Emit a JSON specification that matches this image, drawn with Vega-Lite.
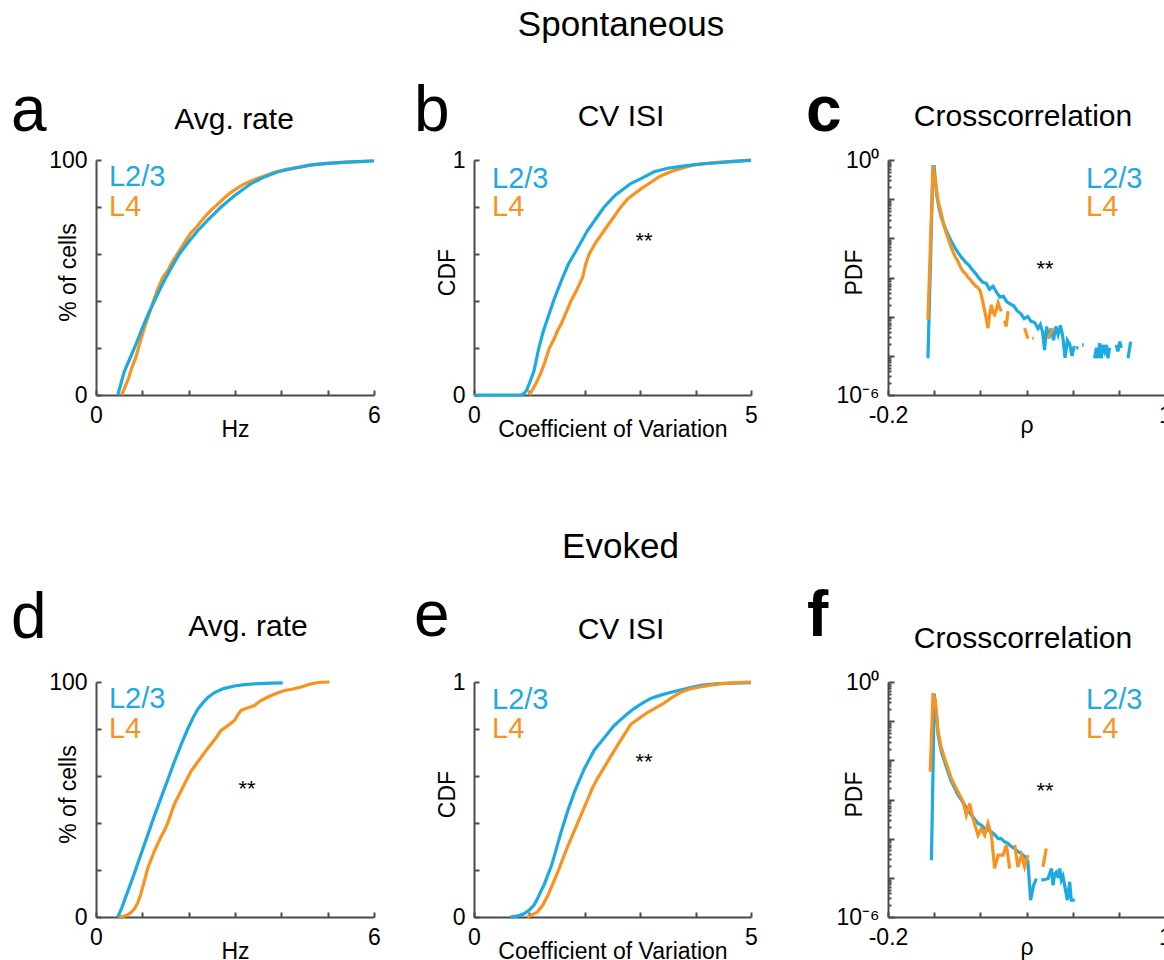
{
"$schema": "https://vega.github.io/schema/vega-lite/v6.json",
"padding": {"left": 10, "top": 7, "right": 0, "bottom": 0},
"background": "white",
"config": {
  "view": {"stroke": null},
  "font": "Liberation Sans",
  "legend": {"disable": true},
  "axis": {"grid": false, "domainColor": "#4a4a4a", "domainWidth": 2, "tickColor": "#4a4a4a", "tickWidth": 2, "tickSize": -5,
    "labelFont": "Liberation Sans", "labelFontSize": 23, "labelColor": "#000000", "labelPadding": 14, "labelFlush": false, "labelOverlap": false, "labelBound": false,
    "titleFont": "Liberation Sans", "titleFontSize": 23, "titleFontWeight": "normal", "titleColor": "#000000"},
  "text": {"font": "Liberation Sans", "color": "#000000"},
  "line": {"strokeWidth": 3.2}
},
"datasets": {
  "sa": [
    {"s":"L2/3","x":0.47,"y":0},{"s":"L2/3","x":0.54,"y":5},{"s":"L2/3","x":0.61,"y":10},{"s":"L2/3","x":0.72,"y":15},{"s":"L2/3","x":0.83,"y":20},{"s":"L2/3","x":0.93,"y":25},{"s":"L2/3","x":1.03,"y":30},{"s":"L2/3","x":1.14,"y":35},{"s":"L2/3","x":1.26,"y":40},{"s":"L2/3","x":1.38,"y":45},{"s":"L2/3","x":1.51,"y":50},{"s":"L2/3","x":1.65,"y":55},{"s":"L2/3","x":1.8,"y":60},{"s":"L2/3","x":1.99,"y":65},{"s":"L2/3","x":2.2,"y":70},{"s":"L2/3","x":2.44,"y":75},{"s":"L2/3","x":2.7,"y":80},{"s":"L2/3","x":3.0,"y":85},{"s":"L2/3","x":3.35,"y":90},{"s":"L2/3","x":3.6,"y":92.5},{"s":"L2/3","x":3.93,"y":95},{"s":"L2/3","x":4.3,"y":96.6},{"s":"L2/3","x":4.6,"y":97.8},{"s":"L2/3","x":5.0,"y":98.6},{"s":"L2/3","x":5.5,"y":99.2},{"s":"L2/3","x":6.0,"y":99.6},
    {"s":"L4","x":0.55,"y":0},{"s":"L4","x":0.62,"y":3},{"s":"L4","x":0.7,"y":7},{"s":"L4","x":0.78,"y":12},{"s":"L4","x":0.86,"y":16},{"s":"L4","x":0.93,"y":21},{"s":"L4","x":1.02,"y":27},{"s":"L4","x":1.12,"y":33},{"s":"L4","x":1.24,"y":40},{"s":"L4","x":1.33,"y":45},{"s":"L4","x":1.44,"y":50},{"s":"L4","x":1.55,"y":53},{"s":"L4","x":1.63,"y":56},{"s":"L4","x":1.72,"y":59},{"s":"L4","x":1.82,"y":62},{"s":"L4","x":1.93,"y":65.5},{"s":"L4","x":2.05,"y":69},{"s":"L4","x":2.15,"y":71},{"s":"L4","x":2.25,"y":73.5},{"s":"L4","x":2.38,"y":76.5},{"s":"L4","x":2.5,"y":79},{"s":"L4","x":2.62,"y":81},{"s":"L4","x":2.75,"y":83.5},{"s":"L4","x":2.9,"y":86},{"s":"L4","x":3.05,"y":88},{"s":"L4","x":3.2,"y":89.8},{"s":"L4","x":3.4,"y":91.5},{"s":"L4","x":3.6,"y":93},{"s":"L4","x":3.85,"y":94.8},{"s":"L4","x":4.1,"y":96},{"s":"L4","x":4.4,"y":97},{"s":"L4","x":4.7,"y":98},{"s":"L4","x":5.0,"y":98.6},{"s":"L4","x":5.4,"y":99.1},{"s":"L4","x":5.9,"y":99.4}
  ],
  "sb": [
    {"s":"L2/3","x":0,"y":0},{"s":"L2/3","x":0.85,"y":0},{"s":"L2/3","x":0.9,"y":0.005},{"s":"L2/3","x":0.95,"y":0.02},{"s":"L2/3","x":1.0,"y":0.05},{"s":"L2/3","x":1.08,"y":0.1},{"s":"L2/3","x":1.17,"y":0.2},{"s":"L2/3","x":1.25,"y":0.27},{"s":"L2/3","x":1.35,"y":0.34},{"s":"L2/3","x":1.45,"y":0.41},{"s":"L2/3","x":1.6,"y":0.5},{"s":"L2/3","x":1.7,"y":0.555},{"s":"L2/3","x":1.81,"y":0.6},{"s":"L2/3","x":1.93,"y":0.65},{"s":"L2/3","x":2.05,"y":0.7},{"s":"L2/3","x":2.2,"y":0.75},{"s":"L2/3","x":2.35,"y":0.8},{"s":"L2/3","x":2.55,"y":0.85},{"s":"L2/3","x":2.83,"y":0.9},{"s":"L2/3","x":3.05,"y":0.925},{"s":"L2/3","x":3.25,"y":0.95},{"s":"L2/3","x":3.5,"y":0.965},{"s":"L2/3","x":3.8,"y":0.975},{"s":"L2/3","x":4.2,"y":0.985},{"s":"L2/3","x":4.6,"y":0.992},{"s":"L2/3","x":5.0,"y":0.998},
    {"s":"L4","x":0.99,"y":0},{"s":"L4","x":1.05,"y":0.02},{"s":"L4","x":1.12,"y":0.05},{"s":"L4","x":1.2,"y":0.09},{"s":"L4","x":1.28,"y":0.14},{"s":"L4","x":1.36,"y":0.2},{"s":"L4","x":1.45,"y":0.24},{"s":"L4","x":1.5,"y":0.27},{"s":"L4","x":1.57,"y":0.3},{"s":"L4","x":1.66,"y":0.35},{"s":"L4","x":1.75,"y":0.4},{"s":"L4","x":1.86,"y":0.45},{"s":"L4","x":1.96,"y":0.5},{"s":"L4","x":2.02,"y":0.56},{"s":"L4","x":2.08,"y":0.6},{"s":"L4","x":2.2,"y":0.65},{"s":"L4","x":2.35,"y":0.7},{"s":"L4","x":2.5,"y":0.75},{"s":"L4","x":2.65,"y":0.8},{"s":"L4","x":2.78,"y":0.835},{"s":"L4","x":2.86,"y":0.85},{"s":"L4","x":3.0,"y":0.875},{"s":"L4","x":3.16,"y":0.9},{"s":"L4","x":3.35,"y":0.93},{"s":"L4","x":3.55,"y":0.95},{"s":"L4","x":3.75,"y":0.965},{"s":"L4","x":3.98,"y":0.98},{"s":"L4","x":4.4,"y":0.99},{"s":"L4","x":5.0,"y":1.0}
  ],
  "sc": [
    {"s":"L2/3","x":-0.027,"y":8.7e-6},{"s":"L2/3","x":-0.005,"y":0.68},{"s":"L2/3","x":0.0,"y":0.68},{"s":"L2/3","x":0.01,"y":0.141},{"s":"L2/3","x":0.02,"y":0.0631},{"s":"L2/3","x":0.03,"y":0.0355},{"s":"L2/3","x":0.045,"y":0.02},{"s":"L2/3","x":0.06,"y":0.0126},{"s":"L2/3","x":0.075,"y":0.0083},{"s":"L2/3","x":0.09,"y":0.00575},{"s":"L2/3","x":0.105,"y":0.00417},{"s":"L2/3","x":0.12,"y":0.00316},{"s":"L2/3","x":0.135,"y":0.00251},{"s":"L2/3","x":0.15,"y":0.00209},{"s":"L2/3","x":0.165,"y":0.00158},{"s":"L2/3","x":0.18,"y":0.00126},{"s":"L2/3","x":0.195,"y":0.00095},{"s":"L2/3","x":0.21,"y":0.00076},{"s":"L2/3","x":0.225,"y":0.00071},{"s":"L2/3","x":0.24,"y":0.0005},{"s":"L2/3","x":0.255,"y":0.0006},{"s":"L2/3","x":0.27,"y":0.00042},{"s":"L2/3","x":0.285,"y":0.000316},{"s":"L2/3","x":0.3,"y":0.00033},{"s":"L2/3","x":0.315,"y":0.00024},{"s":"L2/3","x":0.33,"y":0.00021},{"s":"L2/3","x":0.345,"y":0.00019},{"s":"L2/3","x":0.36,"y":0.00014},{"s":"L2/3","x":0.375,"y":0.00012},{"s":"L2/3","x":0.39,"y":8.9e-5},{"s":"L2/3","x":0.405,"y":1e-4},{"s":"L2/3","x":0.42,"y":7.6e-5},{"s":"L2/3","x":0.435,"y":7.1e-5},{"s":"L2/3","x":0.45,"y":5e-5},{"s":"L2/3","x":0.46,"y":6.3e-5},{"s":"L2/3","x":0.47,"y":4e-5},{"s":"L2/3","x":0.478,"y":1.4e-5},{"s":"L2/3","x":0.487,"y":5.6e-5},{"s":"L2/3","x":0.497,"y":2.8e-5},{"s":"L2/3","x":0.507,"y":5e-5},{"s":"L2/3","x":0.517,"y":2.5e-5},{"s":"L2/3","x":0.527,"y":5.6e-5},{"s":"L2/3","x":0.537,"y":3.5e-5},{"s":"L2/3","x":0.547,"y":6e-5},{"s":"L2/3","x":0.557,"y":3.2e-5},{"s":"L2/3","x":0.567,"y":8.9e-6},{"s":"L2/3","x":0.577,"y":2.5e-5},{"s":"L2/3","x":0.587,"y":2e-5},{"s":"L2/3","x":0.597,"y":1e-5},{"s":"L2/3","x":0.607,"y":1.8e-5},{"s":"L2/3","x":0.612,"y":null},{"s":"L2/3","x":0.615,"y":1.6e-5},{"s":"L2/3","x":0.625,"y":1.6e-5},{"s":"L2/3","x":0.632,"y":null},{"s":"L2/3","x":0.641,"y":1.9e-5},{"s":"L2/3","x":0.648,"y":1.9e-5},{"s":"L2/3","x":0.66,"y":null},{"s":"L2/3","x":0.695,"y":8.7e-6},{"s":"L2/3","x":0.703,"y":1.6e-5},{"s":"L2/3","x":0.71,"y":8.7e-6},{"s":"L2/3","x":0.717,"y":2.1e-5},{"s":"L2/3","x":0.724,"y":8.7e-6},{"s":"L2/3","x":0.731,"y":1.9e-5},{"s":"L2/3","x":0.739,"y":1.3e-5},{"s":"L2/3","x":0.746,"y":1.9e-5},{"s":"L2/3","x":0.753,"y":8.7e-6},{"s":"L2/3","x":0.76,"y":1.6e-5},{"s":"L2/3","x":0.775,"y":null},{"s":"L2/3","x":0.789,"y":1.9e-5},{"s":"L2/3","x":0.796,"y":1.3e-5},{"s":"L2/3","x":0.804,"y":2.3e-5},{"s":"L2/3","x":0.811,"y":1.6e-5},{"s":"L2/3","x":0.825,"y":null},{"s":"L2/3","x":0.84,"y":8.7e-6},{"s":"L2/3","x":0.851,"y":2.3e-5},
    {"s":"L4","x":-0.027,"y":8.3e-5},{"s":"L4","x":-0.005,"y":0.716},{"s":"L4","x":0.005,"y":0.295},{"s":"L4","x":0.017,"y":0.091},{"s":"L4","x":0.03,"y":0.045},{"s":"L4","x":0.045,"y":0.0186},{"s":"L4","x":0.06,"y":0.01},{"s":"L4","x":0.074,"y":0.0058},{"s":"L4","x":0.09,"y":0.0035},{"s":"L4","x":0.103,"y":0.0026},{"s":"L4","x":0.115,"y":0.0018},{"s":"L4","x":0.125,"y":0.00145},{"s":"L4","x":0.135,"y":0.00126},{"s":"L4","x":0.147,"y":0.001},{"s":"L4","x":0.157,"y":0.00089},{"s":"L4","x":0.168,"y":0.00072},{"s":"L4","x":0.18,"y":0.0006},{"s":"L4","x":0.19,"y":0.00055},{"s":"L4","x":0.2,"y":0.00045},{"s":"L4","x":0.21,"y":0.00025},{"s":"L4","x":0.219,"y":0.000138},{"s":"L4","x":0.226,"y":8.9e-5},{"s":"L4","x":0.233,"y":5.1e-5},{"s":"L4","x":0.24,"y":0.000112},{"s":"L4","x":0.248,"y":0.0002},{"s":"L4","x":0.255,"y":0.000126},{"s":"L4","x":0.262,"y":0.000112},{"s":"L4","x":0.27,"y":0.000158},{"s":"L4","x":0.277,"y":0.000224},{"s":"L4","x":0.284,"y":0.000166},{"s":"L4","x":0.291,"y":0.000138},{"s":"L4","x":0.296,"y":null},{"s":"L4","x":0.305,"y":7.9e-5},{"s":"L4","x":0.312,"y":5.6e-5},{"s":"L4","x":0.32,"y":0.000138},{"s":"L4","x":0.33,"y":null},{"s":"L4","x":0.392,"y":5.1e-5},{"s":"L4","x":0.406,"y":2.75e-5},{"s":"L4","x":0.415,"y":null},{"s":"L4","x":0.425,"y":2.8e-5},{"s":"L4","x":0.431,"y":2.8e-5},{"s":"L4","x":0.44,"y":null},{"s":"L4","x":0.493,"y":2.8e-5},{"s":"L4","x":0.515,"y":5.1e-5}
  ],
  "sd": [
    {"s":"L2/3","x":0.47,"y":0},{"s":"L2/3","x":0.55,"y":3.5},{"s":"L2/3","x":0.65,"y":9},{"s":"L2/3","x":0.8,"y":17},{"s":"L2/3","x":0.95,"y":25.5},{"s":"L2/3","x":1.1,"y":34},{"s":"L2/3","x":1.25,"y":42.5},{"s":"L2/3","x":1.4,"y":50.5},{"s":"L2/3","x":1.55,"y":58.5},{"s":"L2/3","x":1.7,"y":66.5},{"s":"L2/3","x":1.85,"y":74},{"s":"L2/3","x":1.98,"y":80},{"s":"L2/3","x":2.1,"y":85},{"s":"L2/3","x":2.2,"y":88.5},{"s":"L2/3","x":2.3,"y":91},{"s":"L2/3","x":2.42,"y":93.5},{"s":"L2/3","x":2.56,"y":95.5},{"s":"L2/3","x":2.75,"y":97.2},{"s":"L2/3","x":2.99,"y":98.3},{"s":"L2/3","x":3.2,"y":98.9},{"s":"L2/3","x":3.49,"y":99.3},{"s":"L2/3","x":3.8,"y":99.5},{"s":"L2/3","x":4.03,"y":99.6},
    {"s":"L4","x":0.47,"y":0},{"s":"L4","x":0.6,"y":0.3},{"s":"L4","x":0.68,"y":0.8},{"s":"L4","x":0.76,"y":2},{"s":"L4","x":0.83,"y":3.5},{"s":"L4","x":0.9,"y":6},{"s":"L4","x":0.97,"y":10},{"s":"L4","x":1.04,"y":15},{"s":"L4","x":1.12,"y":21},{"s":"L4","x":1.2,"y":25},{"s":"L4","x":1.26,"y":28},{"s":"L4","x":1.33,"y":31},{"s":"L4","x":1.4,"y":34},{"s":"L4","x":1.48,"y":37},{"s":"L4","x":1.55,"y":40},{"s":"L4","x":1.62,"y":44},{"s":"L4","x":1.69,"y":48},{"s":"L4","x":1.78,"y":51.5},{"s":"L4","x":1.87,"y":55},{"s":"L4","x":1.96,"y":58.5},{"s":"L4","x":2.05,"y":62},{"s":"L4","x":2.16,"y":65},{"s":"L4","x":2.27,"y":68},{"s":"L4","x":2.38,"y":71},{"s":"L4","x":2.49,"y":73.7},{"s":"L4","x":2.6,"y":76.5},{"s":"L4","x":2.7,"y":79.4},{"s":"L4","x":2.85,"y":81.5},{"s":"L4","x":2.99,"y":83.6},{"s":"L4","x":3.06,"y":86},{"s":"L4","x":3.13,"y":87.9},{"s":"L4","x":3.25,"y":88.8},{"s":"L4","x":3.42,"y":90},{"s":"L4","x":3.55,"y":92},{"s":"L4","x":3.71,"y":93.6},{"s":"L4","x":3.9,"y":95.2},{"s":"L4","x":4.07,"y":96.4},{"s":"L4","x":4.25,"y":97},{"s":"L4","x":4.43,"y":97.9},{"s":"L4","x":4.6,"y":99},{"s":"L4","x":4.79,"y":99.8},{"s":"L4","x":5.04,"y":100}
  ],
  "se": [
    {"s":"L2/3","x":0.66,"y":0},{"s":"L2/3","x":0.8,"y":0.005},{"s":"L2/3","x":0.9,"y":0.014},{"s":"L2/3","x":1.0,"y":0.03},{"s":"L2/3","x":1.08,"y":0.05},{"s":"L2/3","x":1.14,"y":0.075},{"s":"L2/3","x":1.2,"y":0.106},{"s":"L2/3","x":1.27,"y":0.14},{"s":"L2/3","x":1.33,"y":0.177},{"s":"L2/3","x":1.4,"y":0.22},{"s":"L2/3","x":1.45,"y":0.26},{"s":"L2/3","x":1.51,"y":0.31},{"s":"L2/3","x":1.57,"y":0.36},{"s":"L2/3","x":1.63,"y":0.405},{"s":"L2/3","x":1.69,"y":0.45},{"s":"L2/3","x":1.75,"y":0.49},{"s":"L2/3","x":1.81,"y":0.53},{"s":"L2/3","x":1.9,"y":0.58},{"s":"L2/3","x":1.99,"y":0.63},{"s":"L2/3","x":2.08,"y":0.67},{"s":"L2/3","x":2.17,"y":0.71},{"s":"L2/3","x":2.29,"y":0.745},{"s":"L2/3","x":2.41,"y":0.78},{"s":"L2/3","x":2.53,"y":0.815},{"s":"L2/3","x":2.65,"y":0.84},{"s":"L2/3","x":2.77,"y":0.865},{"s":"L2/3","x":2.89,"y":0.887},{"s":"L2/3","x":3.04,"y":0.91},{"s":"L2/3","x":3.19,"y":0.93},{"s":"L2/3","x":3.34,"y":0.942},{"s":"L2/3","x":3.49,"y":0.952},{"s":"L2/3","x":3.65,"y":0.962},{"s":"L2/3","x":3.8,"y":0.97},{"s":"L2/3","x":3.95,"y":0.978},{"s":"L2/3","x":4.1,"y":0.986},{"s":"L2/3","x":4.4,"y":0.993},{"s":"L2/3","x":4.7,"y":0.995},{"s":"L2/3","x":5.0,"y":0.997},
    {"s":"L4","x":0.96,"y":0},{"s":"L4","x":1.05,"y":0.01},{"s":"L4","x":1.14,"y":0.02},{"s":"L4","x":1.24,"y":0.05},{"s":"L4","x":1.33,"y":0.09},{"s":"L4","x":1.42,"y":0.14},{"s":"L4","x":1.51,"y":0.19},{"s":"L4","x":1.6,"y":0.245},{"s":"L4","x":1.69,"y":0.3},{"s":"L4","x":1.78,"y":0.35},{"s":"L4","x":1.87,"y":0.4},{"s":"L4","x":1.96,"y":0.45},{"s":"L4","x":2.05,"y":0.5},{"s":"L4","x":2.14,"y":0.55},{"s":"L4","x":2.23,"y":0.59},{"s":"L4","x":2.32,"y":0.625},{"s":"L4","x":2.41,"y":0.66},{"s":"L4","x":2.5,"y":0.695},{"s":"L4","x":2.59,"y":0.73},{"s":"L4","x":2.71,"y":0.775},{"s":"L4","x":2.83,"y":0.82},{"s":"L4","x":2.98,"y":0.845},{"s":"L4","x":3.13,"y":0.87},{"s":"L4","x":3.28,"y":0.89},{"s":"L4","x":3.43,"y":0.91},{"s":"L4","x":3.58,"y":0.935},{"s":"L4","x":3.73,"y":0.957},{"s":"L4","x":3.9,"y":0.97},{"s":"L4","x":4.1,"y":0.98},{"s":"L4","x":4.3,"y":0.988},{"s":"L4","x":4.46,"y":0.993},{"s":"L4","x":4.75,"y":0.997},{"s":"L4","x":5.0,"y":1.0}
  ],
  "sf": [
    {"s":"L2/3","x":-0.012,"y":2.8e-5},{"s":"L2/3","x":-0.005,"y":0.005},{"s":"L2/3","x":0.0,"y":0.5},{"s":"L2/3","x":0.005,"y":0.3},{"s":"L2/3","x":0.017,"y":0.045},{"s":"L2/3","x":0.03,"y":0.0178},{"s":"L2/3","x":0.045,"y":0.0093},{"s":"L2/3","x":0.06,"y":0.005},{"s":"L2/3","x":0.074,"y":0.0029},{"s":"L2/3","x":0.09,"y":0.0019},{"s":"L2/3","x":0.103,"y":0.0013},{"s":"L2/3","x":0.117,"y":0.001},{"s":"L2/3","x":0.132,"y":0.00072},{"s":"L2/3","x":0.147,"y":0.00052},{"s":"L2/3","x":0.161,"y":0.0004},{"s":"L2/3","x":0.175,"y":0.00032},{"s":"L2/3","x":0.19,"y":0.000245},{"s":"L2/3","x":0.205,"y":0.00022},{"s":"L2/3","x":0.219,"y":0.00018},{"s":"L2/3","x":0.233,"y":0.000166},{"s":"L2/3","x":0.248,"y":0.00015},{"s":"L2/3","x":0.262,"y":0.000126},{"s":"L2/3","x":0.277,"y":0.0001},{"s":"L2/3","x":0.29,"y":0.0001},{"s":"L2/3","x":0.305,"y":8.3e-5},{"s":"L2/3","x":0.32,"y":7.6e-5},{"s":"L2/3","x":0.334,"y":6.3e-5},{"s":"L2/3","x":0.348,"y":5.6e-5},{"s":"L2/3","x":0.363,"y":4.7e-5},{"s":"L2/3","x":0.377,"y":4.2e-5},{"s":"L2/3","x":0.392,"y":3.5e-5},{"s":"L2/3","x":0.406,"y":2.6e-5},{"s":"L2/3","x":0.418,"y":2.7e-6},{"s":"L2/3","x":0.43,"y":6.3e-6},{"s":"L2/3","x":0.443,"y":9.5e-6},{"s":"L2/3","x":0.453,"y":null},{"s":"L2/3","x":0.464,"y":8.7e-6},{"s":"L2/3","x":0.478,"y":9.1e-6},{"s":"L2/3","x":0.493,"y":9.5e-6},{"s":"L2/3","x":0.5,"y":1.26e-5},{"s":"L2/3","x":0.508,"y":1.74e-5},{"s":"L2/3","x":0.515,"y":6.5e-6},{"s":"L2/3","x":0.522,"y":1.26e-5},{"s":"L2/3","x":0.529,"y":1.4e-5},{"s":"L2/3","x":0.537,"y":1e-5},{"s":"L2/3","x":0.544,"y":1.74e-5},{"s":"L2/3","x":0.551,"y":8.7e-6},{"s":"L2/3","x":0.558,"y":1.1e-5},{"s":"L2/3","x":0.565,"y":6.5e-6},{"s":"L2/3","x":0.577,"y":2.7e-6},{"s":"L2/3","x":0.587,"y":7.9e-6},{"s":"L2/3","x":0.594,"y":2.7e-6},{"s":"L2/3","x":0.609,"y":2.7e-6},
    {"s":"L4","x":-0.017,"y":0.0051},{"s":"L4","x":-0.005,"y":0.52},{"s":"L4","x":0.005,"y":0.316},{"s":"L4","x":0.017,"y":0.055},{"s":"L4","x":0.03,"y":0.022},{"s":"L4","x":0.045,"y":0.0112},{"s":"L4","x":0.06,"y":0.0062},{"s":"L4","x":0.074,"y":0.0035},{"s":"L4","x":0.09,"y":0.0022},{"s":"L4","x":0.103,"y":0.00158},{"s":"L4","x":0.115,"y":0.00115},{"s":"L4","x":0.125,"y":0.00089},{"s":"L4","x":0.139,"y":0.0004},{"s":"L4","x":0.154,"y":0.00079},{"s":"L4","x":0.168,"y":0.00033},{"s":"L4","x":0.19,"y":0.000123},{"s":"L4","x":0.204,"y":0.00018},{"s":"L4","x":0.219,"y":0.000123},{"s":"L4","x":0.233,"y":0.000245},{"s":"L4","x":0.248,"y":0.000123},{"s":"L4","x":0.262,"y":1.74e-5},{"s":"L4","x":0.277,"y":3.8e-5},{"s":"L4","x":0.298,"y":3.8e-5},{"s":"L4","x":0.313,"y":6.9e-5},{"s":"L4","x":0.327,"y":1.74e-5},{"s":"L4","x":0.335,"y":null},{"s":"L4","x":0.349,"y":6.9e-5},{"s":"L4","x":0.363,"y":1.9e-5},{"s":"L4","x":0.378,"y":3.8e-5},{"s":"L4","x":0.392,"y":1.9e-5},{"s":"L4","x":0.406,"y":3.8e-5},{"s":"L4","x":0.42,"y":null},{"s":"L4","x":0.471,"y":1.9e-5},{"s":"L4","x":0.486,"y":5.6e-5}
  ]
},
"concat": [
  {
    "width": 278, "height": 235,
    "data": {"name": "sa"},
    "layer": [
      {"transform": [{"filter": "datum.s == 'L4'"}], "mark": {"type": "line"},
       "encoding": {
         "x": {"field": "x", "type": "quantitative", "scale": {"domain": [0, 6], "nice": false, "zero": false},
               "axis": {"values": [0,1,2,3,4,5,6], "labelExpr": "datum.value == 0 ? '0' : datum.value == 6 ? '6' : ''", "title": "Hz", "titleY": 41, "titleBaseline": "alphabetic"}},
         "y": {"field": "y", "type": "quantitative", "scale": {"domain": [0, 100], "nice": false, "zero": false},
               "axis": {"values": [0,10,20,30,40,50,60,70,80,90,100], "labelExpr": "datum.value == 0 ? '0' : datum.value == 100 ? '100' : ''", "title": "% of cells", "titleX": -28, "titleY": 112, "titleAngle": 270, "titleAlign": "center", "titleBaseline": "middle"}},
         "color": {"field": "s", "type": "nominal", "scale": {"domain": ["L2/3", "L4"], "range": ["#1DA9E1", "#F7931E"]}}
       }},
      {"transform": [{"filter": "datum.s == 'L2/3'"}], "mark": {"type": "line"},
       "encoding": {"x": {"field": "x", "type": "quantitative"}, "y": {"field": "y", "type": "quantitative"}, "color": {"field": "s", "type": "nominal"}}},
      {"data": {"values": [{"t": "a"}]}, "mark": {"type": "text", "fontSize": 64, "align": "left", "baseline": "alphabetic"},
       "encoding": {"x": {"datum": -1.835}, "y": {"datum": 112.3}, "text": {"field": "t"}}},
      {"data": {"values": [{"t": "Avg. rate"}]}, "mark": {"type": "text", "fontSize": 30, "align": "center", "baseline": "alphabetic"},
       "encoding": {"x": {"datum": 2.98}, "y": {"datum": 113.2}, "text": {"field": "t"}}},
      {"data": {"values": [{"t": "L2/3"}]}, "mark": {"type": "text", "fontSize": 29, "align": "left", "baseline": "alphabetic"},
       "encoding": {"x": {"datum": 0.28}, "y": {"datum": 88.9}, "text": {"field": "t"}, "color": {"field": "t", "type": "nominal"}}},
      {"data": {"values": [{"t": "L4"}]}, "mark": {"type": "text", "fontSize": 29, "align": "left", "baseline": "alphabetic"},
       "encoding": {"x": {"datum": 0.28}, "y": {"datum": 76.2}, "text": {"field": "t"}, "color": {"field": "t", "type": "nominal"}}}
    ]
  },
  {
    "width": 314, "height": 235,
    "data": {"name": "sb"},
    "layer": [
      {"transform": [{"filter": "datum.s == 'L4'"}], "mark": {"type": "line"},
       "encoding": {
         "x": {"field": "x", "type": "quantitative", "scale": {"domain": [0, 5], "nice": false, "zero": false, "range": [0, 277]},
               "axis": {"values": [0,1,2,3,4,5], "labelExpr": "datum.value == 0 ? '0' : datum.value == 5 ? '5' : ''", "title": "Coefficient of Variation", "titleY": 41, "titleBaseline": "alphabetic"}},
         "y": {"field": "y", "type": "quantitative", "scale": {"domain": [0, 1], "nice": false, "zero": false},
               "axis": {"values": [0,0.1,0.2,0.3,0.4,0.5,0.6,0.7,0.8,0.9,1], "labelExpr": "datum.value < 0.05 ? '0' : datum.value > 0.95 ? '1' : ''", "title": "CDF", "titleX": -27, "titleY": 112, "titleAngle": 270, "titleAlign": "center", "titleBaseline": "middle"}},
         "color": {"field": "s", "type": "nominal", "scale": {"domain": ["L2/3", "L4"], "range": ["#1DA9E1", "#F7931E"]}}
       }},
      {"transform": [{"filter": "datum.s == 'L2/3'"}], "mark": {"type": "line"},
       "encoding": {"x": {"field": "x", "type": "quantitative"}, "y": {"field": "y", "type": "quantitative"}, "color": {"field": "s", "type": "nominal"}}},
      {"data": {"values": [{"t": "Spontaneous"}]}, "mark": {"type": "text", "fontSize": 35, "align": "center", "baseline": "alphabetic"},
       "encoding": {"x": {"datum": 2.653}, "y": {"datum": 1.528}, "text": {"field": "t"}}},
      {"data": {"values": [{"t": "b"}]}, "mark": {"type": "text", "fontSize": 64, "align": "left", "baseline": "alphabetic"},
       "encoding": {"x": {"datum": -1.083}, "y": {"datum": 1.123}, "text": {"field": "t"}}},
      {"data": {"values": [{"t": "CV ISI"}]}, "mark": {"type": "text", "fontSize": 30, "align": "center", "baseline": "alphabetic"},
       "encoding": {"x": {"datum": 2.653}, "y": {"datum": 1.145}, "text": {"field": "t"}}},
      {"data": {"values": [{"t": "L2/3"}]}, "mark": {"type": "text", "fontSize": 29, "align": "left", "baseline": "alphabetic"},
       "encoding": {"x": {"datum": 0.325}, "y": {"datum": 0.881}, "text": {"field": "t"}, "color": {"field": "t", "type": "nominal"}}},
      {"data": {"values": [{"t": "L4"}]}, "mark": {"type": "text", "fontSize": 29, "align": "left", "baseline": "alphabetic"},
       "encoding": {"x": {"datum": 0.325}, "y": {"datum": 0.762}, "text": {"field": "t"}, "color": {"field": "t", "type": "nominal"}}},
      {"data": {"values": [{"t": "**"}]}, "mark": {"type": "text", "fontSize": 22, "align": "center", "baseline": "alphabetic"},
       "encoding": {"x": {"datum": 3.07}, "y": {"datum": 0.626}, "text": {"field": "t"}}}
    ]
  },
  {
    "width": 277, "height": 235,
    "data": {"name": "sc"},
    "layer": [
      {"transform": [{"filter": "datum.s == 'L2/3'"}], "mark": {"type": "line"},
       "encoding": {
         "x": {"field": "x", "type": "quantitative", "scale": {"domain": [-0.2, 1], "nice": false, "zero": false},
               "axis": {"values": [-0.2,0,0.2,0.4,0.6,0.8,1], "labelExpr": "datum.value < -0.1 ? '-0.2' : datum.value > 0.9 ? '1' : ''", "title": "ρ", "titleY": 37, "titleBaseline": "alphabetic"}},
         "y": {"field": "y", "type": "quantitative", "scale": {"type": "log", "domain": [1e-6, 1], "nice": false},
               "axis": {"values": [1e-6,2e-6,3e-6,4e-6,5e-6,6e-6,7e-6,8e-6,9e-6,1e-5,2e-5,3e-5,4e-5,5e-5,6e-5,7e-5,8e-5,9e-5,1e-4,2e-4,3e-4,4e-4,5e-4,6e-4,7e-4,8e-4,9e-4,0.001,0.002,0.003,0.004,0.005,0.006,0.007,0.008,0.009,0.01,0.02,0.03,0.04,0.05,0.06,0.07,0.08,0.09,0.1,0.2,0.3,0.4,0.5,0.6,0.7,0.8,0.9,1],
                        "tickSize": {"condition": {"test": "abs(log(datum.value)/LN10 - round(log(datum.value)/LN10)) < 0.001", "value": -6}, "value": -3},
                        "labelPadding": 15,
                        "labelExpr": "datum.value > 0.95 ? '10⁰' : datum.value < 1.5e-6 ? '10⁻⁶' : ''", "title": "PDF", "titleX": -34, "titleY": 112, "titleAngle": 270, "titleAlign": "center", "titleBaseline": "middle"}},
         "color": {"field": "s", "type": "nominal", "scale": {"domain": ["L2/3", "L4"], "range": ["#1DA9E1", "#F7931E"]}}
       }},
      {"transform": [{"filter": "datum.s == 'L4'"}], "mark": {"type": "line"},
       "encoding": {"x": {"field": "x", "type": "quantitative"}, "y": {"field": "y", "type": "quantitative"}, "color": {"field": "s", "type": "nominal"}}},
      {"data": {"values": [{"t": "c"}]}, "mark": {"type": "text", "fontSize": 64, "fontWeight": "bold", "align": "left", "baseline": "alphabetic"},
       "encoding": {"x": {"datum": -0.555}, "y": {"datum": 5.54}, "text": {"field": "t"}}},
      {"data": {"values": [{"t": "Crosscorrelation"}]}, "mark": {"type": "text", "fontSize": 30, "align": "center", "baseline": "alphabetic"},
       "encoding": {"x": {"datum": 0.385}, "y": {"datum": 7.45}, "text": {"field": "t"}}},
      {"data": {"values": [{"t": "L2/3"}]}, "mark": {"type": "text", "fontSize": 29, "align": "left", "baseline": "alphabetic"},
       "encoding": {"x": {"datum": 0.658}, "y": {"datum": 0.195}, "text": {"field": "t"}, "color": {"field": "t", "type": "nominal"}}},
      {"data": {"values": [{"t": "L4"}]}, "mark": {"type": "text", "fontSize": 29, "align": "left", "baseline": "alphabetic"},
       "encoding": {"x": {"datum": 0.658}, "y": {"datum": 0.0366}, "text": {"field": "t"}, "color": {"field": "t", "type": "nominal"}}},
      {"data": {"values": [{"t": "**"}]}, "mark": {"type": "text", "fontSize": 22, "align": "center", "baseline": "alphabetic"},
       "encoding": {"x": {"datum": 0.48}, "y": {"datum": 0.00107}, "text": {"field": "t"}}}
    ]
  },
  {
    "width": 278, "height": 235,
    "data": {"name": "sd"},
    "layer": [
      {"transform": [{"filter": "datum.s == 'L4'"}], "mark": {"type": "line"},
       "encoding": {
         "x": {"field": "x", "type": "quantitative", "scale": {"domain": [0, 6], "nice": false, "zero": false},
               "axis": {"values": [0,1,2,3,4,5,6], "labelExpr": "datum.value == 0 ? '0' : datum.value == 6 ? '6' : ''", "title": "Hz", "titleY": 41, "titleBaseline": "alphabetic"}},
         "y": {"field": "y", "type": "quantitative", "scale": {"domain": [0, 100], "nice": false, "zero": false},
               "axis": {"values": [0,10,20,30,40,50,60,70,80,90,100], "labelExpr": "datum.value == 0 ? '0' : datum.value == 100 ? '100' : ''", "title": "% of cells", "titleX": -28, "titleY": 112, "titleAngle": 270, "titleAlign": "center", "titleBaseline": "middle"}},
         "color": {"field": "s", "type": "nominal", "scale": {"domain": ["L2/3", "L4"], "range": ["#1DA9E1", "#F7931E"]}}
       }},
      {"transform": [{"filter": "datum.s == 'L2/3'"}], "mark": {"type": "line"},
       "encoding": {"x": {"field": "x", "type": "quantitative"}, "y": {"field": "y", "type": "quantitative"}, "color": {"field": "s", "type": "nominal"}}},
      {"data": {"values": [{"t": "d"}]}, "mark": {"type": "text", "fontSize": 64, "align": "left", "baseline": "alphabetic"},
       "encoding": {"x": {"datum": -1.835}, "y": {"datum": 118.7}, "text": {"field": "t"}}},
      {"data": {"values": [{"t": "Avg. rate"}]}, "mark": {"type": "text", "fontSize": 30, "align": "center", "baseline": "alphabetic"},
       "encoding": {"x": {"datum": 3.28}, "y": {"datum": 119.6}, "text": {"field": "t"}}},
      {"data": {"values": [{"t": "L2/3"}]}, "mark": {"type": "text", "fontSize": 29, "align": "left", "baseline": "alphabetic"},
       "encoding": {"x": {"datum": 0.28}, "y": {"datum": 88.9}, "text": {"field": "t"}, "color": {"field": "t", "type": "nominal"}}},
      {"data": {"values": [{"t": "L4"}]}, "mark": {"type": "text", "fontSize": 29, "align": "left", "baseline": "alphabetic"},
       "encoding": {"x": {"datum": 0.28}, "y": {"datum": 76.3}, "text": {"field": "t"}, "color": {"field": "t", "type": "nominal"}}},
      {"data": {"values": [{"t": "**"}]}, "mark": {"type": "text", "fontSize": 22, "align": "center", "baseline": "alphabetic"},
       "encoding": {"x": {"datum": 3.26}, "y": {"datum": 51.5}, "text": {"field": "t"}}}
    ]
  },
  {
    "width": 314, "height": 235,
    "data": {"name": "se"},
    "layer": [
      {"transform": [{"filter": "datum.s == 'L2/3'"}], "mark": {"type": "line"},
       "encoding": {
         "x": {"field": "x", "type": "quantitative", "scale": {"domain": [0, 5], "nice": false, "zero": false, "range": [0, 277]},
               "axis": {"values": [0,1,2,3,4,5], "labelExpr": "datum.value == 0 ? '0' : datum.value == 5 ? '5' : ''", "title": "Coefficient of Variation", "titleY": 41, "titleBaseline": "alphabetic"}},
         "y": {"field": "y", "type": "quantitative", "scale": {"domain": [0, 1], "nice": false, "zero": false},
               "axis": {"values": [0,0.1,0.2,0.3,0.4,0.5,0.6,0.7,0.8,0.9,1], "labelExpr": "datum.value < 0.05 ? '0' : datum.value > 0.95 ? '1' : ''", "title": "CDF", "titleX": -27, "titleY": 112, "titleAngle": 270, "titleAlign": "center", "titleBaseline": "middle"}},
         "color": {"field": "s", "type": "nominal", "scale": {"domain": ["L2/3", "L4"], "range": ["#1DA9E1", "#F7931E"]}}
       }},
      {"transform": [{"filter": "datum.s == 'L4'"}], "mark": {"type": "line"},
       "encoding": {"x": {"field": "x", "type": "quantitative"}, "y": {"field": "y", "type": "quantitative"}, "color": {"field": "s", "type": "nominal"}}},
      {"data": {"values": [{"t": "Evoked"}]}, "mark": {"type": "text", "fontSize": 35, "align": "center", "baseline": "alphabetic"},
       "encoding": {"x": {"datum": 2.644}, "y": {"datum": 1.528}, "text": {"field": "t"}}},
      {"data": {"values": [{"t": "e"}]}, "mark": {"type": "text", "fontSize": 64, "align": "left", "baseline": "alphabetic"},
       "encoding": {"x": {"datum": -1.083}, "y": {"datum": 1.196}, "text": {"field": "t"}}},
      {"data": {"values": [{"t": "CV ISI"}]}, "mark": {"type": "text", "fontSize": 30, "align": "center", "baseline": "alphabetic"},
       "encoding": {"x": {"datum": 2.653}, "y": {"datum": 1.183}, "text": {"field": "t"}}},
      {"data": {"values": [{"t": "L2/3"}]}, "mark": {"type": "text", "fontSize": 29, "align": "left", "baseline": "alphabetic"},
       "encoding": {"x": {"datum": 0.325}, "y": {"datum": 0.884}, "text": {"field": "t"}, "color": {"field": "t", "type": "nominal"}}},
      {"data": {"values": [{"t": "L4"}]}, "mark": {"type": "text", "fontSize": 29, "align": "left", "baseline": "alphabetic"},
       "encoding": {"x": {"datum": 0.325}, "y": {"datum": 0.763}, "text": {"field": "t"}, "color": {"field": "t", "type": "nominal"}}},
      {"data": {"values": [{"t": "**"}]}, "mark": {"type": "text", "fontSize": 22, "align": "center", "baseline": "alphabetic"},
       "encoding": {"x": {"datum": 3.07}, "y": {"datum": 0.63}, "text": {"field": "t"}}}
    ]
  },
  {
    "width": 277, "height": 235,
    "data": {"name": "sf"},
    "layer": [
      {"transform": [{"filter": "datum.s == 'L2/3'"}], "mark": {"type": "line"},
       "encoding": {
         "x": {"field": "x", "type": "quantitative", "scale": {"domain": [-0.2, 1], "nice": false, "zero": false},
               "axis": {"values": [-0.2,0,0.2,0.4,0.6,0.8,1], "labelExpr": "datum.value < -0.1 ? '-0.2' : datum.value > 0.9 ? '1' : ''", "title": "ρ", "titleY": 37, "titleBaseline": "alphabetic"}},
         "y": {"field": "y", "type": "quantitative", "scale": {"type": "log", "domain": [1e-6, 1], "nice": false},
               "axis": {"values": [1e-6,2e-6,3e-6,4e-6,5e-6,6e-6,7e-6,8e-6,9e-6,1e-5,2e-5,3e-5,4e-5,5e-5,6e-5,7e-5,8e-5,9e-5,1e-4,2e-4,3e-4,4e-4,5e-4,6e-4,7e-4,8e-4,9e-4,0.001,0.002,0.003,0.004,0.005,0.006,0.007,0.008,0.009,0.01,0.02,0.03,0.04,0.05,0.06,0.07,0.08,0.09,0.1,0.2,0.3,0.4,0.5,0.6,0.7,0.8,0.9,1],
                        "tickSize": {"condition": {"test": "abs(log(datum.value)/LN10 - round(log(datum.value)/LN10)) < 0.001", "value": -6}, "value": -3},
                        "labelPadding": 15,
                        "labelExpr": "datum.value > 0.95 ? '10⁰' : datum.value < 1.5e-6 ? '10⁻⁶' : ''", "title": "PDF", "titleX": -34, "titleY": 112, "titleAngle": 270, "titleAlign": "center", "titleBaseline": "middle"}},
         "color": {"field": "s", "type": "nominal", "scale": {"domain": ["L2/3", "L4"], "range": ["#1DA9E1", "#F7931E"]}}
       }},
      {"transform": [{"filter": "datum.s == 'L4'"}], "mark": {"type": "line"},
       "encoding": {"x": {"field": "x", "type": "quantitative"}, "y": {"field": "y", "type": "quantitative"}, "color": {"field": "s", "type": "nominal"}}},
      {"data": {"values": [{"t": "f"}]}, "mark": {"type": "text", "fontSize": 64, "fontWeight": "bold", "align": "left", "baseline": "alphabetic"},
       "encoding": {"x": {"datum": -0.551}, "y": {"datum": 15.1}, "text": {"field": "t"}}},
      {"data": {"values": [{"t": "Crosscorrelation"}]}, "mark": {"type": "text", "fontSize": 30, "align": "center", "baseline": "alphabetic"},
       "encoding": {"x": {"datum": 0.385}, "y": {"datum": 7.58}, "text": {"field": "t"}}},
      {"data": {"values": [{"t": "L2/3"}]}, "mark": {"type": "text", "fontSize": 29, "align": "left", "baseline": "alphabetic"},
       "encoding": {"x": {"datum": 0.658}, "y": {"datum": 0.2}, "text": {"field": "t"}, "color": {"field": "t", "type": "nominal"}}},
      {"data": {"values": [{"t": "L4"}]}, "mark": {"type": "text", "fontSize": 29, "align": "left", "baseline": "alphabetic"},
       "encoding": {"x": {"datum": 0.658}, "y": {"datum": 0.0373}, "text": {"field": "t"}, "color": {"field": "t", "type": "nominal"}}},
      {"data": {"values": [{"t": "**"}]}, "mark": {"type": "text", "fontSize": 22, "align": "center", "baseline": "alphabetic"},
       "encoding": {"x": {"datum": 0.48}, "y": {"datum": 0.00107}, "text": {"field": "t"}}}
    ]
  }
],
"columns": 3,
"spacing": {"row": 287, "column": 100},
"bounds": "flush",
"align": "each"
}
